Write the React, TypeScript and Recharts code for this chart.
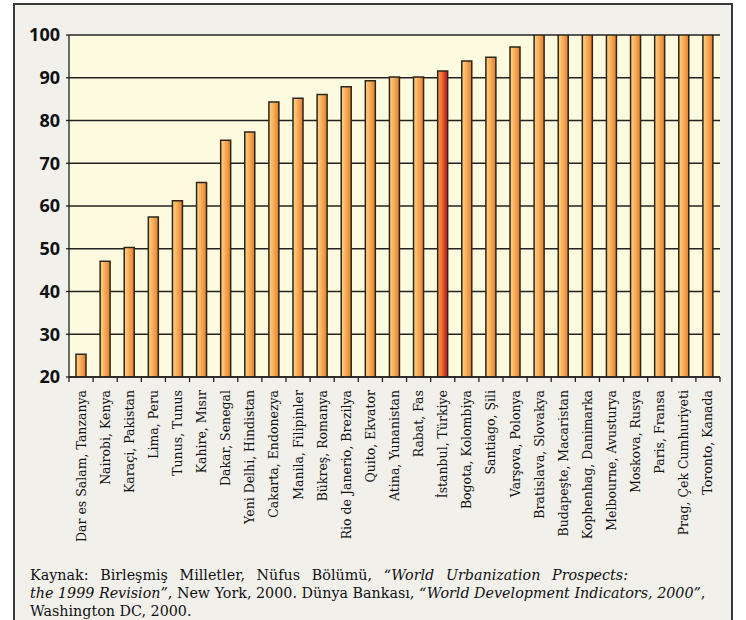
import React from 'react';
import { BarChart, Bar, XAxis, YAxis, CartesianGrid, Cell } from 'recharts';

const cities = [
  'Dar es Salam, Tanzanya', 'Nairobi, Kenya', 'Karaçi, Pakistan', 'Lima, Peru', 'Tunus, Tunus',
  'Kahire, Mısır', 'Dakar, Senegal', 'Yeni Delhi, Hindistan', 'Cakarta, Endonezya', 'Manila, Filipinler',
  'Bükreş, Romanya', 'Rio de Janerio, Brezilya', 'Quito, Ekvator', 'Atina, Yunanistan', 'Rabat, Fas',
  'İstanbul, Türkiye', 'Bogota, Kolombiya', 'Santiago, Şili', 'Varşova, Polonya', 'Bratislava, Slovakya',
  'Budapeşte, Macaristan', 'Kophenhag, Danimarka', 'Melbourne, Avusturya', 'Moskova, Rusya', 'Paris, Fransa',
  'Prag, Çek Cumhuriyeti', 'Toronto, Kanada',
];
const values = [
  25.3, 47.1, 50.3, 57.4, 61.2, 65.5, 75.4, 77.3, 84.3, 85.2,
  86.1, 87.9, 89.3, 90.2, 90.2, 91.6, 93.9, 94.8, 97.2, 100,
  100, 100, 100, 100, 100, 100, 100,
];
const highlightCity = 'İstanbul, Türkiye';
const yTicks = [20, 30, 40, 50, 60, 70, 80, 90, 100];

const data = cities.map((name, i) => ({ name, value: values[i] }));

const XTick = (props: any) => {
  const { x, y, payload, index, width, visibleTicksCount } = props;
  const band = width / visibleTicksCount;
  const axisY = y - 8;
  return (
    <g>
      <line x1={x - band / 2} x2={x - band / 2} y1={axisY} y2={axisY + 5} stroke="#222" strokeWidth={1.3} />
      {index === visibleTicksCount - 1 && (
        <line x1={x + band / 2} x2={x + band / 2} y1={axisY} y2={axisY + 5} stroke="#222" strokeWidth={1.3} />
      )}
      <text
        x={x}
        y={y + 5}
        transform={`rotate(-90, ${x}, ${y + 5})`}
        textAnchor="end"
        dominantBaseline="central"
        fontFamily="'DejaVu Serif', serif"
        fontSize={12.5}
        fill="#111"
      >
        {payload.value}
      </text>
    </g>
  );
};

export default function App() {
  return (
    <div style={{ position: 'absolute', left: 0, top: 0, width: 746, height: 620, overflow: 'hidden' }}>
      <div
        style={{
          position: 'absolute', left: 13, top: 3, width: 716, height: 640,
          border: '2px solid #3a3a3a', background: '#f1f0eb',
        }}
      />
      <div style={{ position: 'absolute', left: 0, top: 0 }}>
        <BarChart
          width={746}
          height={560}
          data={data}
          margin={{ top: 35, right: 26, bottom: 13, left: 19 }}
          barCategoryGap={0}
        >
          <defs>
            <linearGradient id="barGrad" x1="0" y1="0" x2="1" y2="0">
              <stop offset="0" stopColor="#fcd48a" />
              <stop offset="0.35" stopColor="#f8b865" />
              <stop offset="0.7" stopColor="#f29844" />
              <stop offset="1" stopColor="#e37a28" />
            </linearGradient>
            <linearGradient id="barGradRed" x1="0" y1="0" x2="1" y2="0">
              <stop offset="0" stopColor="#f3a253" />
              <stop offset="0.4" stopColor="#e8722f" />
              <stop offset="0.7" stopColor="#d93c22" />
              <stop offset="1" stopColor="#c80a1e" />
            </linearGradient>
          </defs>
          <CartesianGrid
            vertical={false}
            stroke="#222"
            strokeWidth={1.3}
            fill="#fdfbdf"
            fillOpacity={1}
          />
          <XAxis
            dataKey="name"
            interval={0}
            height={170}
            tickLine={false}
            tickSize={5}
            tickMargin={3}
            axisLine={{ stroke: '#222', strokeWidth: 1.3 }}
            tick={<XTick />}
          />
          <YAxis
            domain={[20, 100]}
            ticks={yTicks}
            width={50}
            allowDataOverflow
            axisLine={{ stroke: '#222', strokeWidth: 1.3 }}
            tickLine={{ stroke: '#222', strokeWidth: 1.3 }}
            tickSize={3}
            tickMargin={6}
            tick={{ fill: '#111', fontFamily: "'Open Sans', sans-serif", fontWeight: 700, fontSize: 18 }}
          />
          <YAxis
            yAxisId="r"
            orientation="right"
            domain={[20, 100]}
            width={0}
            tick={false}
            tickLine={false}
            axisLine={{ stroke: '#222', strokeWidth: 1.3 }}
          />
          <Bar dataKey="value" barSize={10} stroke="#2a261a" strokeWidth={1.5} isAnimationActive={false}>
            {data.map((d) => (
              <Cell key={d.name} fill={d.name === highlightCity ? 'url(#barGradRed)' : 'url(#barGrad)'} />
            ))}
          </Bar>
        </BarChart>
      </div>
      <div
        style={{
          position: 'absolute', left: 30, top: 566, width: 690,
          fontFamily: "'DejaVu Serif', serif", fontSize: 14.3, lineHeight: '18px', color: '#111',
        }}
      >
        <div style={{ width: 598, textAlign: 'justify', textAlignLast: 'justify' as any, whiteSpace: 'nowrap' }}>
          Kaynak: Birleşmiş Milletler, Nüfus Bölümü, <i>“World Urbanization Prospects:</i>
        </div>
        <div style={{ whiteSpace: 'nowrap' }}>
          <i>the 1999 Revision”</i>, New York, 2000. Dünya Bankası, <i>“World Development Indicators, 2000”</i>,
        </div>
        <div>Washington DC, 2000.</div>
      </div>
    </div>
  );
}
